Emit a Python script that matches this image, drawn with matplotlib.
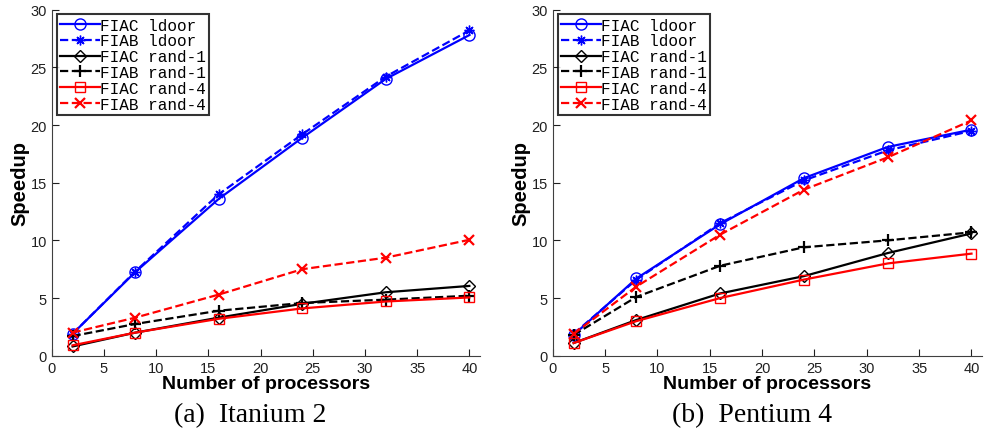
import matplotlib
matplotlib.use("Agg")
import matplotlib.pyplot as plt

# ==========================================
# DATA
# ==========================================
procs = [2, 8, 16, 24, 32, 40]

# (a) Itanium 2
ita_fiac_ldoor = [1.9, 7.25, 13.6, 18.9, 24.0, 27.8]
ita_fiab_ldoor = [1.9, 7.3, 14.0, 19.2, 24.2, 28.2]
ita_fiac_rand1 = [0.8, 2.0, 3.3, 4.5, 5.5, 6.05]
ita_fiab_rand1 = [1.7, 2.75, 3.9, 4.57, 4.86, 5.2]
ita_fiac_rand4 = [0.9, 2.0, 3.2, 4.1, 4.7, 5.05]
ita_fiab_rand4 = [2.0, 3.3, 5.3, 7.5, 8.5, 10.05]

# (b) Pentium 4
pen_fiac_ldoor = [1.8, 6.7, 11.4, 15.4, 18.1, 19.6]
pen_fiab_ldoor = [1.9, 6.6, 11.5, 15.2, 17.8, 19.5]
pen_fiac_rand1 = [1.1, 3.1, 5.4, 6.9, 8.9, 10.6]
pen_fiab_rand1 = [1.8, 5.1, 7.8, 9.4, 10.0, 10.7]
pen_fiac_rand4 = [1.1, 3.0, 5.0, 6.6, 8.0, 8.85]
pen_fiab_rand4 = [1.9, 6.0, 10.5, 14.4, 17.2, 20.4]

labels = ["FIAC ldoor", "FIAB ldoor", "FIAC rand-1",
          "FIAB rand-1", "FIAC rand-4", "FIAB rand-4"]
captions = ["(a)  Itanium 2", "(b)  Pentium 4"]

styles = [
    dict(color="#0000ff", ls="-", marker="o", mfc="none", ms=8),
    dict(color="#0000ff", ls="--", marker=(8, 2, 0), ms=7),
    dict(color="black", ls="-", marker="D", mfc="none", ms=6.5),
    dict(color="black", ls="--", marker="+", ms=9, mew=1.6),
    dict(color="#ff0000", ls="-", marker="s", mfc="none", ms=7),
    dict(color="#ff0000", ls="--", marker="x", ms=6.5, mew=1.6),
]

plt.rcParams["font.family"] = ["Liberation Sans", "DejaVu Sans"]

fig = plt.figure(figsize=(9.87, 4.35), dpi=100)
ax1 = fig.add_axes([0.0524, 0.18, 0.4337, 0.7954])
ax2 = fig.add_axes([0.5600, 0.18, 0.4349, 0.7954])

panels = [
    (ax1, [ita_fiac_ldoor, ita_fiab_ldoor, ita_fiac_rand1,
           ita_fiab_rand1, ita_fiac_rand4, ita_fiab_rand4]),
    (ax2, [pen_fiac_ldoor, pen_fiab_ldoor, pen_fiac_rand1,
           pen_fiab_rand1, pen_fiac_rand4, pen_fiab_rand4]),
]

for i, (ax, series) in enumerate(panels):
    for ys, lab, st in zip(series, labels, styles):
        ax.plot(procs, ys, label=lab, lw=1.6, **st)
    ax.set_xlim(0, 41)
    ax.set_ylim(0, 30)
    ax.set_xticks(range(0, 41, 5))
    ax.set_yticks(range(0, 31, 5))
    ax.spines["top"].set_visible(False)
    ax.spines["right"].set_visible(False)
    ax.spines["left"].set_color("#404040")
    ax.spines["bottom"].set_color("#404040")
    ax.tick_params(direction="in", length=5, labelsize=10.5, colors="#202020")
    ax.set_xlabel("Number of processors", fontsize=14, fontweight="bold", labelpad=0)
    ax.set_ylabel("Speedup", fontsize=14.5, fontweight="bold", labelpad=1)
    leg = ax.legend(loc="upper left", prop={"family": "Liberation Mono", "size": 11.5},
                    frameon=True, fancybox=False, edgecolor="black",
                    borderpad=0.2, labelspacing=0.05, handlelength=2.5,
                    handletextpad=0.0, borderaxespad=0.3)
    leg.get_frame().set_linewidth(1.5)
    pos = ax.get_position()
    # captions sit a bit left of the axes centre, like the paper figure
    fig.text(pos.x0 + pos.width / 2 - 0.016, 0.015, captions[i], ha="center",
             va="bottom", fontsize=20, family="Liberation Serif")

fig.savefig("out.png", dpi=100)
